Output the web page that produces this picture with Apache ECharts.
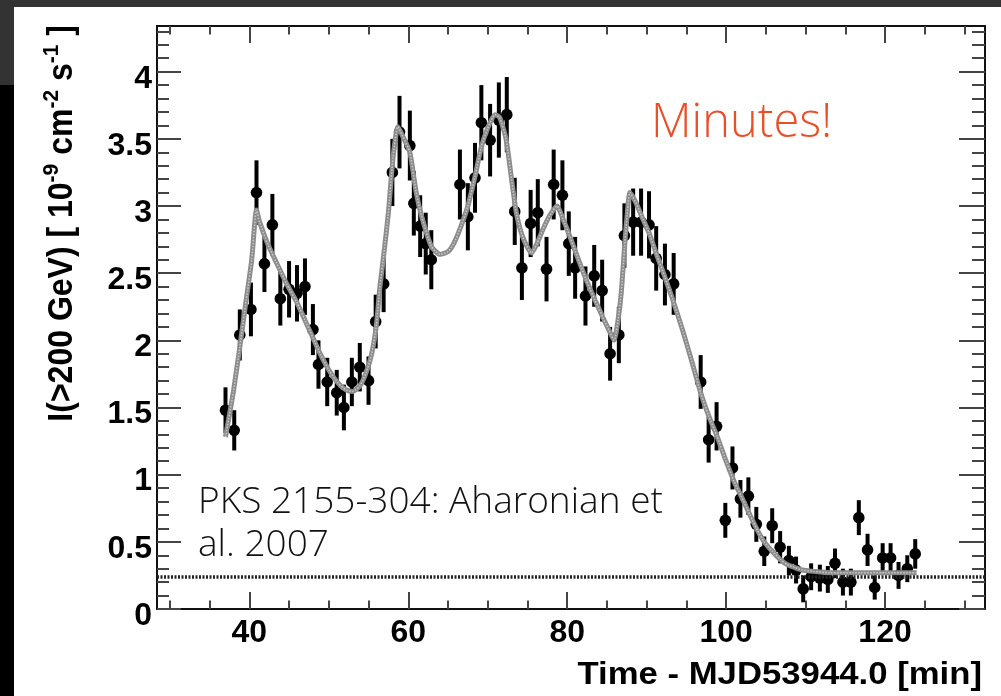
<!DOCTYPE html>
<html><head><meta charset="utf-8">
<script src="https://cdn.jsdelivr.net/npm/echarts@6/dist/echarts.min.js"></script>
<style>html,body{margin:0;padding:0;background:#fff}#c{width:1001px;height:696px}</style>
</head><body><div id="c"></div>
<script>
// ---- data ----
const time = [37.0,38.1,38.8,40.2,40.9,41.9,42.9,43.9,45.0,46.0,47.0,48.0,48.7,49.8,51.0,51.9,52.9,53.9,55.0,55.9,56.9,58.0,58.9,60.2,60.7,61.5,62.2,62.9,
  66.5,67.5,68.4,69.2,70.3,71.4,72.4,73.4,74.3,75.4,76.3,77.4,78.3,79.4,80.2,81.0,82.3,83.4,84.4,85.4,86.5,87.2,88.3,89.3,90.3,91.2,92.3,93.4,
  96.8,97.8,98.8,99.9,100.8,101.8,102.8,103.8,104.8,105.8,106.8,107.9,108.8,109.7,110.7,111.8,112.8,113.7,114.7,115.7,116.7,117.8,118.7,119.7,120.7,121.7,122.8,123.8];
const flux = [1.48,1.33,2.04,2.23,3.10,2.57,2.86,2.31,2.38,2.35,2.40,2.08,1.82,1.69,1.61,1.50,1.69,1.80,1.70,2.14,2.42,3.25,3.55,3.45,3.02,2.85,2.72,2.60,
  3.16,2.92,3.21,3.62,3.49,3.64,3.68,2.96,2.54,2.87,2.95,2.53,3.16,3.08,2.72,2.54,2.33,2.48,2.37,1.90,2.04,2.78,2.88,2.88,2.86,2.61,2.49,2.42,
  1.69,1.26,1.36,0.66,1.05,0.82,0.84,0.63,0.43,0.62,0.46,0.36,0.29,0.15,0.24,0.23,0.22,0.34,0.20,0.20,0.68,0.44,0.16,0.38,0.38,0.25,0.30,0.41];
const fluxErr = [0.17,0.15,0.19,0.20,0.24,0.21,0.23,0.20,0.21,0.21,0.21,0.19,0.18,0.18,0.17,0.17,0.18,0.18,0.18,0.20,0.21,0.25,0.27,0.26,0.24,0.23,0.23,0.22,
  0.26,0.25,0.26,0.28,0.27,0.28,0.28,0.25,0.24,0.25,0.25,0.24,0.26,0.26,0.24,0.23,0.22,0.23,0.23,0.20,0.21,0.24,0.25,0.25,0.25,0.24,0.23,0.23,
  0.20,0.17,0.18,0.13,0.16,0.14,0.14,0.13,0.11,0.13,0.12,0.11,0.10,0.10,0.10,0.10,0.10,0.11,0.10,0.10,0.13,0.12,0.09,0.11,0.11,0.10,0.10,0.11];
const fitTime = [37.0,38.0,38.8,39.6,40.3,40.9,41.3,42.3,43.4,44.7,46.0,47.0,48.0,49.0,50.1,51.2,52.2,53.0,53.9,54.7,55.4,56.0,56.4,57.0,57.5,58.1,58.7,59.3,60.2,61.0,61.7,62.9,64.0,65.0,65.8,66.7,67.5,68.4,69.2,70.0,70.9,71.5,72.3,73.0,73.6,74.4,75.5,76.2,76.9,77.8,78.7,79.5,80.3,81.3,82.4,83.5,84.5,85.3,85.9,86.4,86.8,87.2,87.5,87.9,88.6,89.4,90.3,91.3,92.3,93.3,94.5,95.6,96.8,97.8,98.9,100.0,101.0,101.9,103.0,104.0,104.8,105.8,106.8,107.7,108.6,109.6,111.0,113.0,116.0,120.0,124.0];
const fitFlux = [1.28,1.62,1.95,2.30,2.60,2.97,2.88,2.72,2.58,2.42,2.28,2.15,2.02,1.89,1.77,1.68,1.63,1.62,1.66,1.76,1.90,2.12,2.38,2.68,2.95,3.37,3.59,3.52,3.40,3.10,2.92,2.70,2.64,2.66,2.73,2.86,3.00,3.22,3.44,3.58,3.68,3.66,3.50,3.20,2.95,2.77,2.65,2.72,2.82,2.93,3.00,2.90,2.78,2.62,2.45,2.30,2.17,2.07,2.00,2.15,2.35,2.68,2.90,3.10,3.03,2.92,2.80,2.63,2.47,2.30,2.08,1.86,1.61,1.44,1.28,1.10,0.95,0.84,0.70,0.58,0.50,0.43,0.37,0.33,0.31,0.29,0.28,0.27,0.27,0.27,0.27];
const baseline = 0.236;
const xMajorTicks = [40,60,80,100,120];
const xMinorTicks = [30,35,45,50,55,65,70,75,85,90,95,105,110,115,125,130];
const yMajorTicks = [0,0.5,1,1.5,2,2.5,3,3.5,4];
const yMinorTicks = [0.1,0.2,0.3,0.4,0.6,0.7,0.8,0.9,1.1,1.2,1.3,1.4,1.6,1.7,1.8,1.9,2.1,2.2,2.3,2.4,2.6,2.7,2.8,2.9,3.1,3.2,3.3,3.4,3.6,3.7,3.8,3.9,4.1,4.2,4.3];
const xTitle = 'Time - MJD53944.0 [min]';
const noteText = 'PKS 2155-304: Aharonian et\nal. 2007';
const calloutText = 'Minutes!';

// ---- chart ----
const X_MIN = 28.38, X_MAX = 132.58, Y_MIN = 0, Y_MAX = 4.34;
const TICK_COLOR = '#444', LINE_COLOR = '#111';
const labelFont = {fontFamily:'Liberation Sans', fontWeight:'bold', fontSize:32, color:'#000'};

function xAx(pos, ticks, len, withLabels) {
  return {
    type:'value', position:pos, min:X_MIN, max:X_MAX,
    axisLine:{show:true, onZero:false, lineStyle:{color:LINE_COLOR, width:2}},
    axisTick:{show:true, inside:true, length:len, customValues:ticks, lineStyle:{color:TICK_COLOR, width:2}},
    axisLabel: withLabels ? Object.assign({show:true, customValues:ticks, margin:8}, labelFont) : {show:false},
    splitLine:{show:false}
  };
}
function yAx(pos, ticks, len, withLabels) {
  return {
    type:'value', position:pos, min:Y_MIN, max:Y_MAX,
    axisLine:{show:true, onZero:false, lineStyle:{color:LINE_COLOR, width:2}},
    axisTick:{show:true, inside:true, length:len, customValues:ticks, lineStyle:{color:TICK_COLOR, width:2}},
    axisLabel: withLabels ? Object.assign({show:true, customValues:ticks, margin:5, verticalAlign:'top', lineHeight:14}, labelFont) : {show:false},
    splitLine:{show:false}
  };
}

const chart = echarts.init(document.getElementById('c'), null, {renderer:'canvas'});
const pts = time.map((t,i)=>[t, flux[i], fluxErr[i]]);
const fit = fitTime.map((t,i)=>[t, fitFlux[i]]);

chart.setOption({
  animation:false,
  backgroundColor:'#fff',
  grid:{left:157, right:16, top:26, bottom:87, containLabel:false},
  xAxis:[xAx('bottom', xMajorTicks, 17, true), xAx('bottom', xMinorTicks, 8.5, false),
         xAx('top', xMajorTicks, 17, false), xAx('top', xMinorTicks, 8.5, false)],
  yAxis:[yAx('left', yMajorTicks, 24, true), yAx('left', yMinorTicks, 12, false),
         yAx('right', yMajorTicks, 26, false), yAx('right', yMinorTicks, 13, false)],
  series:[
    {
      type:'custom', xAxisIndex:0, yAxisIndex:0, data:pts, encode:{x:0, y:1}, z:3,
      renderItem(params, api){
        const x = api.value(0), y = api.value(1), e = api.value(2);
        const top = api.coord([x, y+e]), bot = api.coord([x, y-e]), c = api.coord([x, y]);
        return {type:'group', children:[
          {type:'line', shape:{x1:top[0], y1:top[1], x2:bot[0], y2:bot[1]}, style:{stroke:'#000', lineWidth:4}},
          {type:'circle', shape:{cx:c[0], cy:c[1], r:5.8}, style:{fill:'#000'}}
        ]};
      },
      markLine:{silent:true, symbol:'none', label:{show:false},
        lineStyle:{color:'#222', width:3.5, type:[2,1.5]}, data:[{yAxis:baseline}]}
    },
    {type:'line', xAxisIndex:0, yAxisIndex:0, data:fit, smooth:0.2, symbol:'none', z:4,
      lineStyle:{color:'#8c8c8c', width:5}},
    {type:'line', xAxisIndex:0, yAxisIndex:0, data:fit, smooth:0.2, symbol:'none', z:5,
      lineStyle:{color:'#c9c9c9', width:1.5, type:[1.5,1.5]}}
  ],
  graphic:[
    {type:'rect', shape:{x:0, y:0, width:1001, height:7}, style:{fill:'#333'}, z:100},
    {type:'rect', shape:{x:0, y:0, width:14, height:85}, style:{fill:'#333'}, z:100},
    {type:'rect', shape:{x:0, y:85, width:14, height:611}, style:{fill:'#000'}, z:100},
    {type:'text', x:60, y:25, rotation:Math.PI/2, scaleY:1.08, z:50,
      style:{
        text:'{b|I(>200 GeV) [ 10}{s|-9}{b| cm}{s|-2}{b| s}{s|-1}{b| ]}',
        align:'right', verticalAlign:'middle',
        rich:{
          b:{fontFamily:'Liberation Sans', fontWeight:'bold', fontSize:32, fill:'#000', verticalAlign:'bottom', lineHeight:36},
          s:{fontFamily:'Liberation Sans', fontWeight:'bold', fontSize:21, fill:'#000', verticalAlign:'top', lineHeight:36, padding:[0,0,13,0]}
        }
      }},
    {type:'text', x:982, y:675, scaleX:1.12, z:50,
      style:{text:xTitle, align:'right', verticalAlign:'middle', fontFamily:'Liberation Sans', fontWeight:'bold', fontSize:31, fill:'#000'}},
    {type:'text', x:651, y:124, z:50,
      style:{text:calloutText, align:'left', verticalAlign:'middle', fontFamily:'Open Sans', fontWeight:300, fontSize:47, fill:'#e8502a'}},
    {type:'text', x:198, y:524, z:50,
      style:{text:noteText, align:'left', verticalAlign:'middle', fontFamily:'Open Sans', fontWeight:300, fontSize:37, lineHeight:43, fill:'#111'}}
  ]
});
</script>
</body></html>
